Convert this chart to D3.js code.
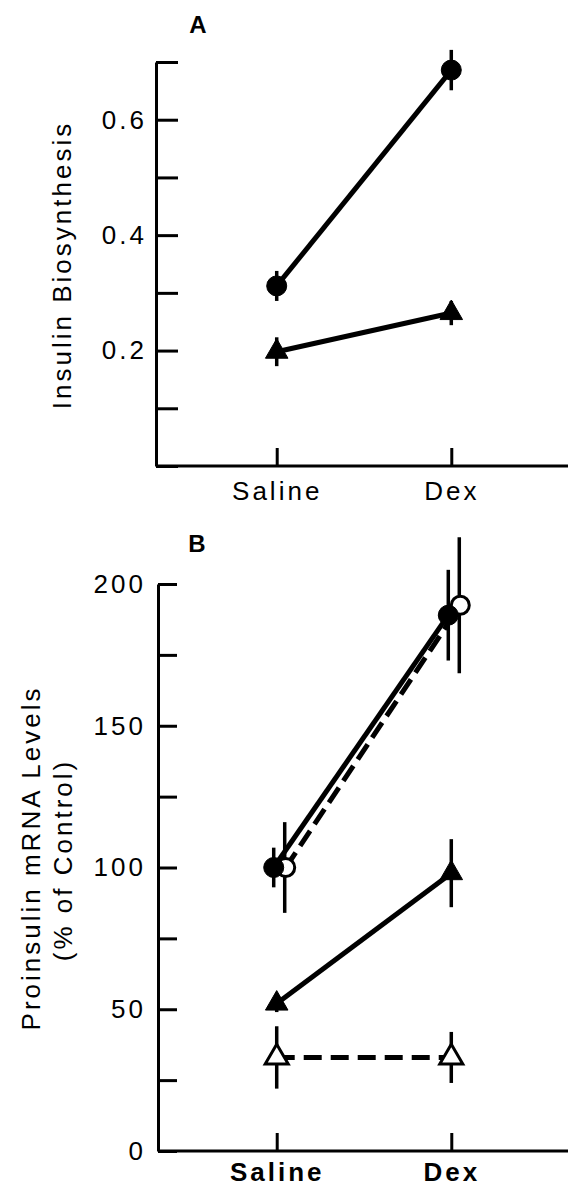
<!DOCTYPE html>
<html>
<head>
<meta charset="utf-8">
<script src="https://cdn.jsdelivr.net/npm/d3@7"></script>
<style>
  body { margin: 0; background: #fff; }
  text { font-family: "Liberation Sans", Arial, sans-serif; fill: #000; }
</style>
</head>
<body>
<div id="chart"></div>
<script>
// categories
var groups = ["Saline", "Dex"];

// panel A: insulin biosynthesis
var aTicks = [0, 0.1, 0.2, 0.3, 0.4, 0.5, 0.6, 0.7];
var aLabels = [0.2, 0.4, 0.6];
var aCircle = [0.312, 0.686];
var aCircleErr = [0.026, 0.035];
var aTri = [0.198, 0.265];
var aTriErr = [0.025, 0.021];

// panel B: proinsulin mRNA (% of control)
var bTicks = [0, 25, 50, 75, 100, 125, 150, 175, 200];
var bLabels = [0, 50, 100, 150, 200];
var bFilledCircle = [100, 189];
var bFilledCircleErr = [7, 16];
var bOpenCircle = [100, 192.5];
var bOpenCircleErr = [16, 24];
var bFilledTri = [52, 98];
var bFilledTriErr = [3, 12];
var bOpenTri = [33, 33];
var bOpenTriErr = [11, 9];

var svg = d3.select("#chart").append("svg").attr("width", 568).attr("height", 1188)

var x = d3.scalePoint().domain(groups).range([158, 570]).padding(0.68)

var yA = d3.scaleLinear().domain([0, 0.7]).range([466, 62])
var yB = d3.scaleLinear().domain([0, 200]).range([1151, 584])

function drawAxes(y, ticks, labels, fmt, bottom, axisX, tickLen, labelPad, weight, dy) {
    var yAxis = d3.axisLeft(y)
        .tickValues(ticks)
        .tickSizeInner(-tickLen)
        .tickSizeOuter(0)
        .tickPadding(labelPad)
        .tickFormat(function(d) { return labels.indexOf(d) >= 0 ? fmt(d) : "" })
    var g = svg.append("g").attr("transform", "translate(" + axisX + ",0)").call(yAxis)
    g.selectAll("text").style("font-size", "26px").style("letter-spacing", "3px")
        .attr("font-family", null).attr("fill", "#000")
    g.select(".domain").attr("stroke-width", 3)
    g.selectAll(".tick line").attr("stroke-width", 3)

    var xAxis = d3.axisBottom(x).tickSizeInner(-18).tickSizeOuter(0).tickPadding(14)
    var gx = svg.append("g").attr("transform", "translate(0," + bottom + ")").call(xAxis)
    gx.select(".domain").attr("d", "M" + axisX + ",0H568").attr("stroke-width", 3)
    gx.selectAll(".tick line").attr("stroke-width", 3)
    gx.selectAll("text").style("font-size", "26px").style("letter-spacing", "3px")
        .style("font-weight", weight).attr("font-family", null).attr("fill", "#000")
        .attr("dy", dy)
}

drawAxes(yA, aTicks, aLabels, d3.format(".1f"), 466, 156, 22, 9, "normal", "0.78em")
drawAxes(yB, bTicks, bLabels, d3.format("d"), 1151, 158, 19, 12, "bold", "0.6em")

function errBars(y, vals, errs, dx) {
    svg.append("g").selectAll("line").data(groups).join("line")
        .attr("x1", function(d) { return x(d) + dx })
        .attr("x2", function(d) { return x(d) + dx })
        .attr("y1", function(d, i) { return y(vals[i] - errs[i]) })
        .attr("y2", function(d, i) { return y(vals[i] + errs[i]) })
        .attr("stroke", "black")
        .attr("stroke-width", 3.5)
}

function series(y, vals, dx, dash) {
    var line = d3.line()
        .x(function(d, i) { return x(groups[i]) + dx })
        .y(function(d) { return y(d) })
    svg.append("path")
        .attr("d", line(vals))
        .attr("fill", "none")
        .attr("stroke", "black")
        .attr("stroke-width", 5)
        .attr("stroke-dasharray", dash)
}

function circles(y, vals, dx, open) {
    svg.append("g").selectAll("circle").data(vals).join("circle")
        .attr("cx", function(d, i) { return x(groups[i]) + dx })
        .attr("cy", function(d) { return y(d) })
        .attr("r", open ? 9 : 10)
        .attr("fill", open ? "white" : "black")
        .attr("stroke", "black")
        .attr("stroke-width", open ? 3 : 1)
}

function triangles(y, vals, dx, open) {
    var tri = d3.symbol().type(d3.symbolTriangle).size(open ? 230 : 220)
    svg.append("g").selectAll("path").data(vals).join("path")
        .attr("d", tri)
        .attr("transform", function(d, i) { return "translate(" + (x(groups[i]) + dx) + "," + y(d) + ")" })
        .attr("fill", open ? "white" : "black")
        .attr("stroke", "black")
        .attr("stroke-width", open ? 3 : 1)
}

// panel A
series(yA, aCircle, 0, null)
series(yA, aTri, 0, null)
errBars(yA, aCircle, aCircleErr, 0)
errBars(yA, aTri, aTriErr, 0)
circles(yA, aCircle, 0, false)
triangles(yA, aTri, 0, false)

// panel B
series(yB, bOpenCircle, 9, "18,8")
series(yB, bFilledCircle, -3, null)
series(yB, bFilledTri, 0, null)
series(yB, bOpenTri, 0, "18,9")
errBars(yB, bOpenCircle, bOpenCircleErr, 8)
errBars(yB, bFilledCircle, bFilledCircleErr, -3)
errBars(yB, bFilledTri, bFilledTriErr, 0)
errBars(yB, bOpenTri, bOpenTriErr, 0)
circles(yB, bOpenCircle, 9, true)
circles(yB, bFilledCircle, -3, false)
triangles(yB, bFilledTri, 0, false)
triangles(yB, bOpenTri, 0, true)

// panel letters and axis titles
svg.append("text").attr("x", 198).attr("y", 33).attr("text-anchor", "middle")
    .style("font-size", "24px").style("font-weight", "bold").text("A")
svg.append("text").attr("x", 197).attr("y", 552).attr("text-anchor", "middle")
    .style("font-size", "24px").style("font-weight", "bold").text("B")

svg.append("text").attr("transform", "translate(71,265) rotate(-90)")
    .attr("text-anchor", "middle").style("font-size", "26px").style("letter-spacing", "3px")
    .text("Insulin Biosynthesis")
svg.append("text").attr("transform", "translate(40,858) rotate(-90)")
    .attr("text-anchor", "middle").style("font-size", "26px").style("letter-spacing", "3px")
    .text("Proinsulin mRNA Levels")
svg.append("text").attr("transform", "translate(72,860) rotate(-90)")
    .attr("text-anchor", "middle").style("font-size", "26px").style("letter-spacing", "3px")
    .text("(% of Control)")
</script>
</body>
</html>
